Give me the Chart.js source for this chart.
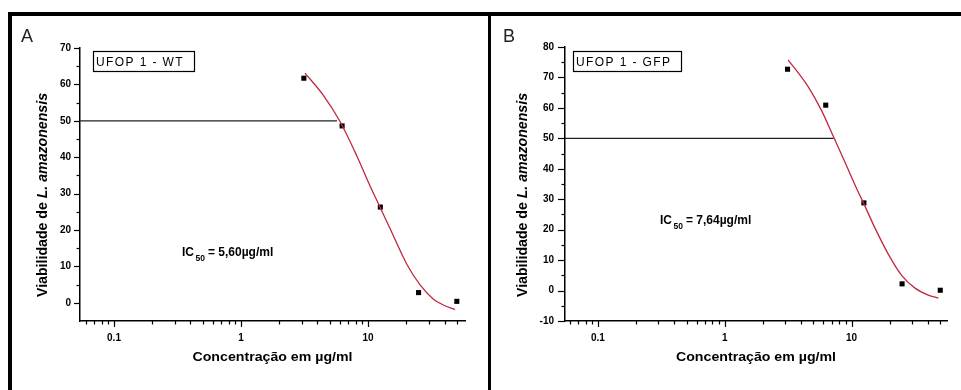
<!DOCTYPE html>
<html><head><meta charset="utf-8">
<script src="https://cdn.jsdelivr.net/npm/chart.js@4.4.1/dist/chart.umd.min.js"></script>
<style>
html,body{margin:0;padding:0;background:#fff;width:961px;height:390px;overflow:hidden;position:relative}
canvas{position:absolute;top:0}
.bar{position:absolute;background:#000}
</style></head><body>
<canvas id="cA" width="490" height="390" style="left:0"></canvas>
<canvas id="cB" width="471" height="390" style="left:490px"></canvas>
<div class="bar" style="left:8px;top:12px;width:953px;height:4px"></div>
<div class="bar" style="left:8px;top:12px;width:4px;height:378px"></div>
<div class="bar" style="left:488px;top:12px;width:3px;height:378px"></div>
<script>
// ---------- data ----------
const concA = [3.125, 6.25, 12.5, 25, 50];
const viabA = [61.7, 48.6, 26.3, 2.8, 0.4];
const fitXA = [3.19, 4.45, 6.02, 8.15, 10.4, 12.3, 14.9, 20.2, 25.7, 32.7, 39.2, 48.4];
const fitYA = [63.1, 57.0, 49.8, 40.4, 32.0, 26.6, 20.4, 10.6, 4.9, 1.0, -0.6, -1.9];
const halfLineEndA = 5.7;

const concB = [3.125, 6.25, 12.5, 25, 50];
const viabB = [72.7, 60.9, 28.8, 2.2, 0.1];
const fitXB = [3.16, 4.54, 5.80, 7.29, 8.85, 10.9, 12.4, 15.3, 19.5, 24.8, 31.6, 40.2, 48.3];
const fitYB = [75.8, 67.0, 59.1, 50.0, 42.2, 33.7, 28.8, 20.5, 11.9, 5.0, 0.8, -1.5, -2.45];
const halfLineEndB = 7.2;

const halfLevel = 50;

const xMajorTicks = [0.1, 1, 10];
const xMajorLabels = ['0.1', '1', '10'];
const xMinorTicks = [0.06, 0.07, 0.08, 0.09, 0.2, 0.3, 0.4, 0.5, 0.6, 0.7, 0.8, 0.9,
                     2, 3, 4, 5, 6, 7, 8, 9, 20, 30, 40, 50];
const xRangeA = [0.054, 58];
const xRangeB = [0.055, 56.5];

const yMajorTicksA = [0, 10, 20, 30, 40, 50, 60, 70];
const yMinorTicksA = [5, 15, 25, 35, 45, 55, 65];
const yRangeA = [-5, 70];
const yMajorTicksB = [-10, 0, 10, 20, 30, 40, 50, 60, 70, 80];
const yMinorTicksB = [-5, 5, 15, 25, 35, 45, 55, 65, 75];
const yRangeB = [-10, 80];

const xTitle = 'Concentração em µg/ml';
const yTitleMain = 'Viabilidade de ';
const yTitleItalic = 'L. amazonensis';
const ic50A = '= 5,60µg/ml';
const ic50B = '= 7,64µg/ml';
const sampleA = 'UFOP 1 - WT';
const sampleB = 'UFOP 1 - GFP';

// ---------- helpers ----------
const FONT = '"Liberation Sans", Arial, sans-serif';
const pts = (xs, ys) => xs.map((x, i) => ({x, y: ys[i]}));

const decoPlugin = {
  id: 'deco',
  afterDraw(chart) {
    const o = chart.options.plugins.deco;
    const ctx = chart.ctx;
    const xs = chart.scales.x, ys = chart.scales.y;
    const ca = chart.chartArea;
    ctx.save();
    ctx.fillStyle = '#000';
    ctx.strokeStyle = '#000';
    // tick marks
    ctx.lineWidth = 1.2;
    xs.ticks.forEach(t => {
      const px = Math.round(xs.getPixelForValue(t.value)) + 0.5;
      const len = t.major ? 6 : 3.5;
      ctx.beginPath(); ctx.moveTo(px, ca.bottom); ctx.lineTo(px, ca.bottom + len); ctx.stroke();
    });
    ys.ticks.forEach(t => {
      const py = Math.round(ys.getPixelForValue(t.value)) + 0.5;
      const len = t.major ? o.yTickLen : 3.5;
      ctx.beginPath(); ctx.moveTo(ca.left, py); ctx.lineTo(ca.left - len, py); ctx.stroke();
    });
    // panel letter
    ctx.fillStyle = '#222';
    ctx.font = '18px ' + FONT;
    ctx.textBaseline = 'alphabetic';
    ctx.textAlign = 'left';
    ctx.fillText(o.letter, o.letterX, 42);
    // sample box
    ctx.fillStyle = '#000';
    ctx.lineWidth = 1.2;
    ctx.strokeRect(o.box[0] + 0.5, o.box[1] + 0.5, o.box[2], o.box[3]);
    ctx.font = '12px ' + FONT;
    if ('letterSpacing' in ctx) ctx.letterSpacing = '1.4px';
    ctx.fillText(o.boxText, o.box[0] + 3, o.box[1] + 15);
    if ('letterSpacing' in ctx) ctx.letterSpacing = '0px';
    // IC50 label
    ctx.font = 'bold 12px ' + FONT;
    let x = o.ic[0];
    ctx.fillText('IC', x, o.ic[1]);
    x += ctx.measureText('IC').width + 1.5;
    ctx.font = 'bold 8.5px ' + FONT;
    ctx.fillText('50', x, o.ic[1] + 5);
    x += ctx.measureText('50').width + 3;
    ctx.font = 'bold 12px ' + FONT;
    ctx.fillText(o.icText, x, o.ic[1]);
    // x title
    ctx.font = 'bold 13px ' + FONT;
    const wx = ctx.measureText(xTitle).width;
    ctx.save();
    ctx.translate((ca.left + ca.right) / 2 + o.xTitleDx, 357);
    ctx.scale(160 / wx, 1);
    ctx.textAlign = 'center';
    ctx.textBaseline = 'middle';
    ctx.fillText(xTitle, 0, 0);
    ctx.restore();
    // y title
    ctx.save();
    ctx.translate(o.yTitleX, 195);
    ctx.rotate(-Math.PI / 2);
    ctx.font = 'bold 14px ' + FONT;
    const w1 = ctx.measureText(yTitleMain).width;
    ctx.font = 'italic bold 14px ' + FONT;
    const w2 = ctx.measureText(yTitleItalic).width;
    ctx.scale(204 / (w1 + w2), 1);
    ctx.textBaseline = 'middle';
    ctx.textAlign = 'left';
    const sx = -(w1 + w2) / 2;
    ctx.font = 'bold 14px ' + FONT;
    ctx.fillText(yTitleMain, sx, 0);
    ctx.font = 'italic bold 14px ' + FONT;
    ctx.fillText(yTitleItalic, sx + w1, 0);
    ctx.restore();
    ctx.restore();
  }
};

function makeChart(id, cfg) {
  const xTickObjs = xMajorTicks.map(v => ({value: v, major: true}))
    .concat(xMinorTicks.map(v => ({value: v, major: false})));
  const yTickObjs = cfg.yMajor.map(v => ({value: v, major: true}))
    .concat(cfg.yMinor.map(v => ({value: v, major: false})));
  return new Chart(document.getElementById(id), {
    type: 'scatter',
    data: {
      datasets: [
        {
          data: [{x: cfg.xRange[0], y: halfLevel}, {x: cfg.halfEnd, y: halfLevel}],
          showLine: true, borderColor: '#222', borderWidth: 1.2, pointRadius: 0
        },
        {
          data: pts(cfg.fitX, cfg.fitY),
          showLine: true, borderColor: '#c0283c', borderWidth: 1.3, pointRadius: 0,
          cubicInterpolationMode: 'monotone'
        },
        {
          data: pts(cfg.conc, cfg.viab),
          showLine: false, pointStyle: 'rect', pointRadius: 3.6,
          backgroundColor: '#000', borderColor: '#000', borderWidth: 0
        }
      ]
    },
    options: {
      responsive: false,
      animation: false,
      devicePixelRatio: 1,
      layout: {padding: {left: 0, top: cfg.top, right: cfg.padRight, bottom: 0}},
      plugins: {
        legend: {display: false},
        tooltip: {enabled: false},
        deco: cfg.deco
      },
      scales: {
        x: {
          type: 'logarithmic',
          min: cfg.xRange[0], max: cfg.xRange[1],
          afterBuildTicks: s => { s.ticks = xTickObjs.map(t => ({...t})); },
          afterFit: s => { s.height = 390 - cfg.bottom; },
          grid: {drawOnChartArea: false, drawTicks: false},
          border: {color: '#000', width: 1.5},
          ticks: {
            autoSkip: false, maxRotation: 0, padding: 11, color: '#000',
            font: {family: FONT, size: 10, weight: 'bold'},
            callback: (v) => {
              const i = xMajorTicks.indexOf(v);
              return i >= 0 ? xMajorLabels[i] : '';
            }
          }
        },
        y: {
          min: cfg.yRange[0], max: cfg.yRange[1],
          afterBuildTicks: s => { s.ticks = yTickObjs.map(t => ({...t})); },
          afterFit: s => { s.width = cfg.left; },
          grid: {drawOnChartArea: false, drawTicks: false},
          border: {color: '#000', width: 1.5},
          ticks: {
            autoSkip: false, padding: cfg.yPad, color: '#000',
            font: {family: FONT, size: 10, weight: 'bold'},
            callback: (v) => cfg.yMajor.includes(v) ? String(v) : ''
          }
        }
      }
    },
    plugins: [decoPlugin]
  });
}

makeChart('cA', {
  conc: concA, viab: viabA, fitX: fitXA, fitY: fitYA, halfEnd: halfLineEndA,
  xRange: xRangeA, yRange: yRangeA, yMajor: yMajorTicksA, yMinor: yMinorTicksA,
  left: 80, top: 48, padRight: 490 - 465, bottom: 321, yPad: 9,
  deco: {letter: 'A', letterX: 21, box: [93, 51, 101, 20], boxText: sampleA,
         ic: [182, 256], icText: ic50A, xTitleDx: 0, yTitleX: 43, yTickLen: 6}
});
makeChart('cB', {
  conc: concB, viab: viabB, fitX: fitXB, fitY: fitYB, halfEnd: halfLineEndB,
  xRange: xRangeB, yRange: yRangeB, yMajor: yMajorTicksB, yMinor: yMinorTicksB,
  left: 75, top: 47, padRight: 471 - 457, bottom: 321, yPad: 11,
  deco: {letter: 'B', letterX: 13, box: [83, 51, 108, 20], boxText: sampleB,
         ic: [170, 224], icText: ic50B, xTitleDx: 0, yTitleX: 33, yTickLen: 7}
});
</script>
</body></html>
